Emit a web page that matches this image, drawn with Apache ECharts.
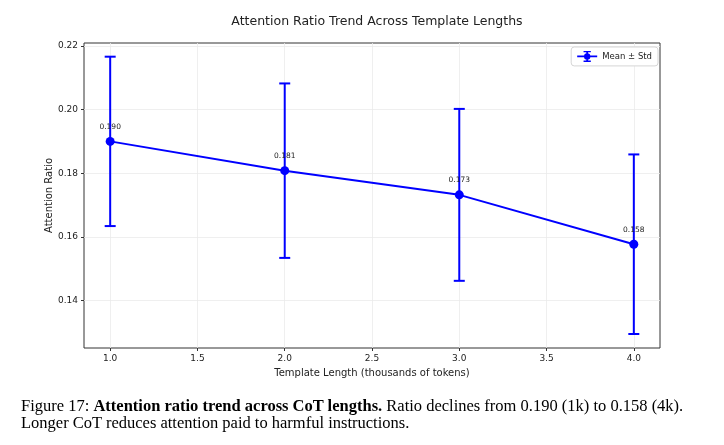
<!DOCTYPE html>
<html><head><meta charset="utf-8">
<script src="https://cdn.jsdelivr.net/npm/echarts@6/dist/echarts.min.js"></script>
<style>
html,body{margin:0;padding:0;background:#fff;}
#c{width:724px;height:445px;position:relative;}
#chart{position:absolute;left:0;top:0;width:724px;height:445px;}
#cap{position:absolute;left:21px;top:397px;width:700px;font-family:"Liberation Serif","Times New Roman",serif;font-size:16.5px;line-height:17px;color:#000;white-space:nowrap;}
</style></head>
<body><div id="c"><div id="chart"></div>
<div id="cap">Figure 17: <b>Attention ratio trend across CoT lengths.</b> Ratio declines from 0.190 (1k) to 0.158 (4k).<br>Longer CoT reduces attention paid to harmful instructions.</div></div>
<script>
const templateLengths = [1.0, 2.0, 3.0, 4.0];
const meanRatio = [0.1900, 0.1808, 0.1732, 0.1577];
const stdRatio = [0.0266, 0.0274, 0.0270, 0.0282];
const meanLabels = ['0.190', '0.181', '0.173', '0.158'];
const xTicks = [1.0, 1.5, 2.0, 2.5, 3.0, 3.5, 4.0];
const yTicks = [0.14, 0.16, 0.18, 0.20, 0.22];

const blue = '#0000ff';
const chart = echarts.init(document.getElementById('chart'), null, {renderer: 'canvas'});
const font = 'DejaVu Sans';
const lineData = templateLengths.map((x, i) => [x, meanRatio[i]]);
const errData = templateLengths.map((x, i) => [x, meanRatio[i] - stdRatio[i], meanRatio[i] + stdRatio[i]]);

chart.setOption({
  animation: false,
  title: {text: 'Attention Ratio Trend Across Template Lengths', left: 372, top: 10, textAlign: 'center',
    textStyle: {fontFamily: font, fontSize: 12.5, fontWeight: 'normal', color: '#222'}},
  grid: {left: 84, right: 64, top: 43, bottom: 97, show: true, borderColor: '#333', borderWidth: 1},
  legend: {data: [{name: 'Mean ± Std', icon: 'path://M0,5 L22,5 L22,7 L0,7 Z M10,0 L12,0 L12,12 L10,12 Z M7,0 L15,0 L15,1.5 L7,1.5 Z M7,10.5 L15,10.5 L15,12 L7,12 Z M7.5,6 A3.5,3.5 0 1 1 14.5,6 A3.5,3.5 0 1 1 7.5,6 Z'}],
    right: 66, top: 47, itemWidth: 20, itemHeight: 11, itemGap: 5,
    backgroundColor: '#fff', borderColor: '#d5d5d5', borderWidth: 1, borderRadius: 3, padding: [4, 6, 4, 6],
    textStyle: {fontFamily: font, fontSize: 8.5, color: '#222'}},
  xAxis: {type: 'value', min: 0.85, max: 4.15,
    name: 'Template Length (thousands of tokens)', nameLocation: 'middle', nameGap: 20, nameMoveOverlap: false,
    nameTextStyle: {fontFamily: font, fontSize: 10, color: '#222'},
    axisLine: {show: false},
    axisTick: {show: true, length: 3, lineStyle: {color: '#333'}, customValues: xTicks},
    axisLabel: {fontFamily: font, fontSize: 9, color: '#222', margin: 6, customValues: xTicks,
      formatter: v => v.toFixed(1)},
    splitLine: {show: true, lineStyle: {color: '#ebebeb', width: 0.8}}},
  yAxis: {type: 'value', min: 0.1251, max: 0.2209,
    name: 'Attention Ratio', nameLocation: 'middle', nameGap: 30, nameRotate: 90, nameMoveOverlap: false,
    nameTextStyle: {fontFamily: font, fontSize: 10, color: '#222'},
    axisLine: {show: false},
    axisTick: {show: true, length: 3, lineStyle: {color: '#333'}, customValues: yTicks},
    axisLabel: {fontFamily: font, fontSize: 9, color: '#222', margin: 6, customValues: yTicks,
      formatter: v => v.toFixed(2)},
    splitLine: {show: true, lineStyle: {color: '#ebebeb', width: 0.8}}},
  series: [
    {type: 'custom', name: 'Mean ± Std', data: errData, z: 3,
      renderItem: (params, api) => {
        const x = api.value(0);
        const lo = api.coord([x, api.value(1)]);
        const hi = api.coord([x, api.value(2)]);
        const w = 5.5;
        const st = {stroke: blue, lineWidth: 2};
        return {type: 'group', children: [
          {type: 'line', shape: {x1: lo[0], y1: lo[1], x2: hi[0], y2: hi[1]}, style: st},
          {type: 'line', shape: {x1: lo[0] - w, y1: lo[1], x2: lo[0] + w, y2: lo[1]}, style: st},
          {type: 'line', shape: {x1: hi[0] - w, y1: hi[1], x2: hi[0] + w, y2: hi[1]}, style: st}
        ]};
      },
      itemStyle: {color: blue}},
    {type: 'line', name: 'Mean ± Std', data: lineData, z: 4, symbol: 'circle', symbolSize: 9,
      lineStyle: {color: blue, width: 2}, itemStyle: {color: blue},
      label: {show: true, position: 'top', distance: 6, fontFamily: font, fontSize: 7.5, color: '#222',
        formatter: p => meanLabels[p.dataIndex]}}
  ]
});
</script></body></html>
